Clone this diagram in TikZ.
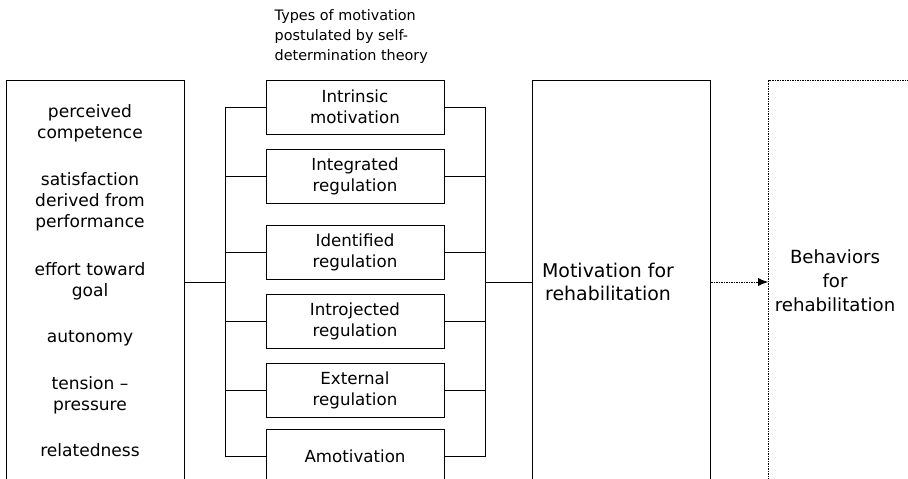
\documentclass[tikz,border=0pt]{standalone}
\usepackage{fontspec}
\setmainfont{DejaVu Sans}
\usetikzlibrary{arrows.meta}

\begin{document}
\begin{tikzpicture}[x=0.75pt,y=-0.75pt,
  bigbox/.style={draw,line width=0.75pt,minimum width=133.5pt,minimum height=303pt,inner sep=0pt},
  typebox/.style={draw,line width=0.6pt,minimum width=133.5pt,minimum height=40.5pt,inner sep=0pt,
                  align=center,font=\fontsize{12.5pt}{15.75pt}\selectfont},
  factor/.style={align=center,font=\fontsize{12.8pt}{15.75pt}\selectfont}]
% ------------------------------------------------ canvas (boxes run off the bottom)
\useasboundingbox (0,0) rectangle (908,479);
\clip (0,0) rectangle (908,479);

% ------------------------------------------------ tall boxes
\node[bigbox] (factors) at (95.5,282) {};
\node[bigbox] (motiv)   at (621,282) {};
\node[bigbox,minimum width=140pt,dash pattern=on 0.75pt off 0.5pt] (behav) at (862,282) {};

% ------------------------------------------------ factors listed in the left box
\node[factor] (f1) at (90,123) {perceived\\competence};
\node[factor] (f2) at (90,202) {satisfaction\\derived from\\performance};
\node[factor] (f3) at (90,281) {effort toward\\goal};
\node[factor] (f4) at (90,338) {autonomy};
\node[factor] (f5) at (90,395) {tension --\\pressure};
\node[factor] (f6) at (90,450) {relatedness};

% ------------------------------------------------ types of motivation
\node[align=left,anchor=west,font=\fontsize{10.8pt}{15pt}\selectfont] (title) at (270,37)
  {Types of motivation\\postulated by self-\\determination theory};

\node[typebox] (t1) at (355,107)   {Intrinsic\\motivation};
\node[typebox] (t2) at (355,176.5) {Integrated\\regulation};
\node[typebox] (t3) at (355,252)   {Identified\\regulation};
\node[typebox] (t4) at (355,321)   {Introjected\\regulation};
\node[typebox] (t5) at (355,390.5) {External\\regulation};
\node[typebox] (t6) at (355,456)   {Amotivation};

% ------------------------------------------------ outcome texts
\node[align=center,font=\fontsize{14.2pt}{17.25pt}\selectfont] (motivtxt) at (608,281.5)
  {Motivation for\\rehabilitation};
\node[align=center,font=\fontsize{13.6pt}{18pt}\selectfont] (behavtxt) at (835,281)
  {Behaviors\\for\\rehabilitation};

% ------------------------------------------------ bus lines
\coordinate (lbus) at (225,282);
\coordinate (rbus) at (485,282);

\draw[line width=0.6pt] (factors.east) -- (lbus);
\draw[line width=0.6pt] (rbus) -- (motiv.west);
\foreach \i in {1,...,6} {
  \draw[line width=0.6pt] (lbus) |- (t\i.west);
  \draw[line width=0.6pt] (rbus) |- (t\i.east);
}

\draw[line width=0.6pt,dash pattern=on 0.75pt off 0.5pt,-{Latex[length=7.5pt,width=6pt]}] (motiv.east) -- (behav.west);

\end{tikzpicture}
\end{document}
